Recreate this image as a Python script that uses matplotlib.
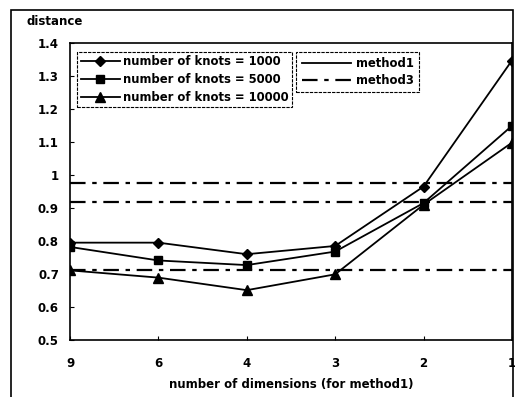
import numpy as np
import matplotlib.pyplot as plt
from matplotlib.lines import Line2D
from matplotlib.patches import Rectangle

dims = ['9', '6', '4', '3', '2', '1']
knots_1000 = [0.795, 0.795, 0.760, 0.785, 0.965, 1.347]
knots_5000 = [0.782, 0.741, 0.727, 0.768, 0.915, 1.149]
knots_10000 = [0.711, 0.689, 0.651, 0.699, 0.910, 1.098]
method3_levels = [0.976, 0.918, 0.712]

plt.rcParams['font.family'] = 'DejaVu Sans'
plt.rcParams['font.weight'] = 'bold'

fig = plt.figure(figsize=(5.15, 3.97), dpi=100)
ax = fig.add_axes([0.136, 0.1436, 0.858, 0.748])

x = np.arange(len(dims))
for y in method3_levels:
    ax.axhline(y, color='black', lw=1.6, dashes=(7, 3, 2, 3))

ax.plot(x, knots_1000, color='black', lw=1.3, marker='D', ms=5.5)
ax.plot(x, knots_5000, color='black', lw=1.3, marker='s', ms=6)
ax.plot(x, knots_10000, color='black', lw=1.3, marker='^', ms=7)

ax.set_xlim(0, len(dims) - 1)
ax.set_ylim(0.5, 1.4)
ax.set_xticks(x)
ax.set_xticklabels(dims)
ax.set_yticks(np.arange(0.5, 1.41, 0.1))
ax.set_yticklabels(['0.5', '0.6', '0.7', '0.8', '0.9', '1', '1.1', '1.2', '1.3', '1.4'])
ax.tick_params(direction='in', length=3, labelsize=8.5, pad=8)
ax.tick_params(axis='x', pad=12)
for s in ax.spines.values():
    s.set_linewidth(1.2)

ax.set_xlabel('number of dimensions (for method1)', fontsize=8.5, fontweight='bold', labelpad=6)
fig.text(0.052, 0.945, 'distance', fontsize=8.5, fontweight='bold', va='center')

h1 = [Line2D([], [], color='black', lw=1.3, marker='D', ms=5.5),
      Line2D([], [], color='black', lw=1.3, marker='s', ms=6),
      Line2D([], [], color='black', lw=1.3, marker='^', ms=7)]
leg1 = ax.legend(h1, ['number of knots = 1000', 'number of knots = 5000', 'number of knots = 10000'],
                 loc='upper left', bbox_to_anchor=(0.016, 0.97), fontsize=8.4, fancybox=False,
                 framealpha=1, edgecolor='black', borderpad=0.3, labelspacing=0.4,
                 handlelength=3.4, handletextpad=0.2, borderaxespad=0)
leg1.get_frame().set_linewidth(0.8)
leg1.get_frame().set_linestyle((0, (3, 1)))
ax.add_artist(leg1)

h2 = [Line2D([], [], color='black', lw=1.3),
      Line2D([], [], color='black', lw=1.6, dashes=(7, 3, 2, 3))]
leg2 = ax.legend(h2, ['method1', 'method3'], loc='upper left', bbox_to_anchor=(0.512, 0.97),
                 fontsize=8.4, fancybox=False, framealpha=1, edgecolor='black', borderpad=0.45,
                 labelspacing=0.3, handlelength=4.2, handletextpad=0.5, borderaxespad=0)
leg2.get_frame().set_linewidth(0.8)
leg2.get_frame().set_linestyle((0, (3, 1)))

fig.patches.append(Rectangle((0.022, -0.05), 0.975, 1.025, transform=fig.transFigure,
                             fill=False, edgecolor='black', lw=1.2))

fig.savefig('out.png', dpi=100)
